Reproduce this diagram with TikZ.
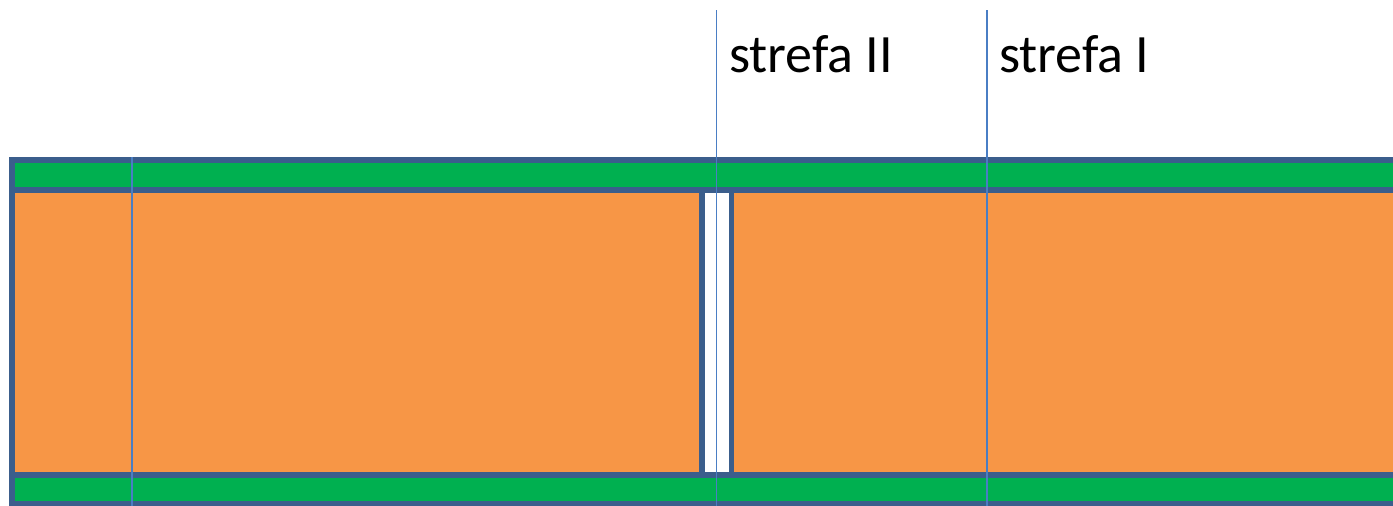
\documentclass[tikz,border=0pt]{standalone}
\usepackage{fontspec}
\setmainfont{Carlito}
\definecolor{bandgreen}{HTML}{00B050}
\definecolor{fillorange}{HTML}{F79646}
\definecolor{edgeblue}{HTML}{3B5E8C}
\definecolor{lineblue}{HTML}{4A7EC4}
\tikzset{
  layer/.style={draw=edgeblue, line width=5.5pt},
  zoneline/.style={draw=lineblue, line width=1.8pt},
  label/.style={inner sep=0pt, anchor=base west, font=\fontsize{54}{64}\selectfont}
}
\begin{document}
\begin{tikzpicture}[x=1pt,y=-1pt]
\useasboundingbox (0,0) rectangle (1393,506);
\clip (0,0) rectangle (1393,506);
% orange core, split by a gap
\path[layer, fill=fillorange] (12,190) rectangle (702,475);
\path[layer, fill=fillorange] (731.5,190) rectangle (1410,475);
% green bands
\path[layer, fill=bandgreen] (12,160) rectangle (1410,190);
\path[layer, fill=bandgreen] (12,475) rectangle (1410,504);
% zone lines
\coordinate (a1) at (132,157);
\coordinate (a2) at (132,506);
\coordinate (b1) at (716.5,10);
\coordinate (b2) at (716.5,506);
\coordinate (c1) at (987,10);
\coordinate (c2) at (987,506);
\draw[zoneline] (a1) -- (a2);
\draw[zoneline] (b1) -- (b2);
\draw[zoneline] (c1) -- (c2);
% labels
\node[label] (s2) at (729,72) {strefa II};
\node[label] (s1) at (999,72) {strefa I};
\end{tikzpicture}
\end{document}
